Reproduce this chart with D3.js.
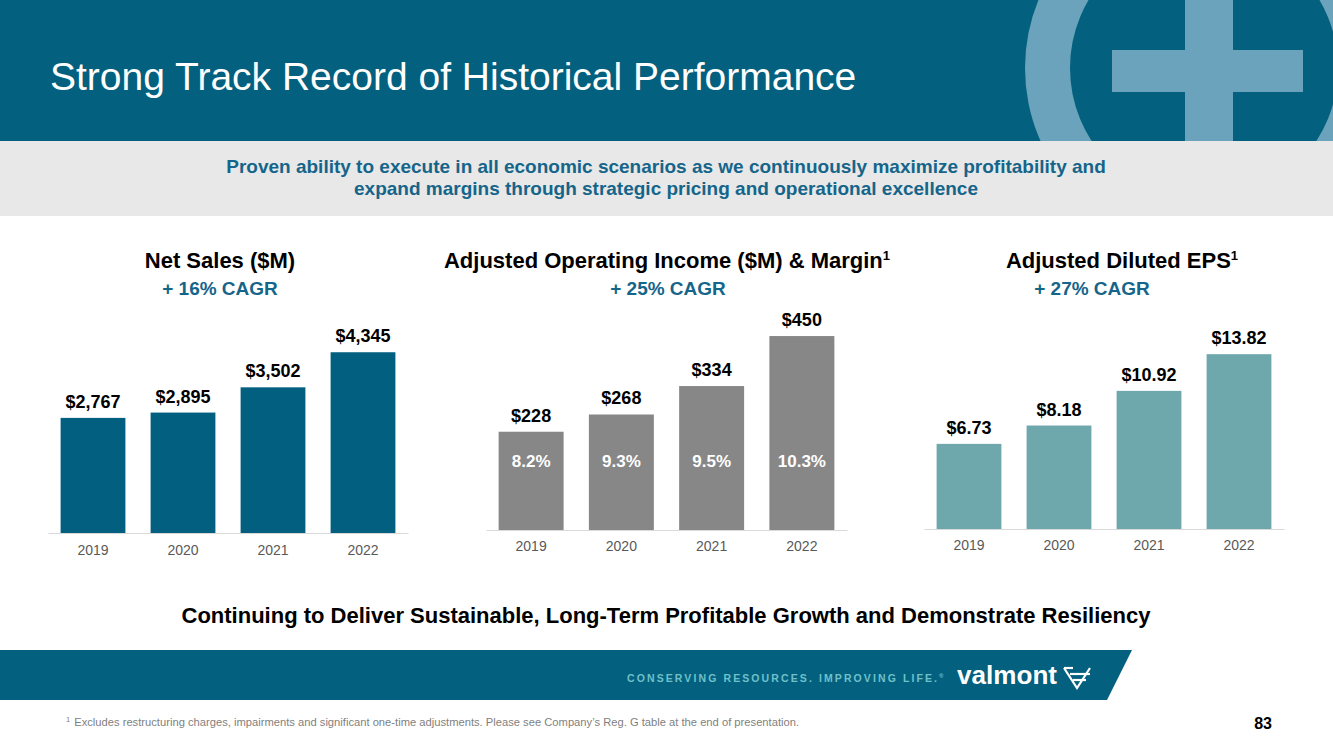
<!DOCTYPE html>
<html><head><meta charset="utf-8">
<script src="https://cdn.jsdelivr.net/npm/d3@7"></script>
<style>body{margin:0;background:#fff}svg{display:block}text{font-family:"Liberation Sans",Arial,Helvetica,sans-serif}</style>
</head><body><svg id="c" width="1333" height="749"></svg>
<script>
const years = ["2019", "2020", "2021", "2022"];
const netSales = [2767, 2895, 3502, 4345];
const netSalesLabels = ["$2,767", "$2,895", "$3,502", "$4,345"];
const opIncome = [228, 268, 334, 450];
const opIncomeLabels = ["$228", "$268", "$334", "$450"];
const opMargin = ["8.2%", "9.3%", "9.5%", "10.3%"];
const eps = [6.73, 8.18, 10.92, 13.82];
const epsLabels = ["$6.73", "$8.18", "$10.92", "$13.82"];

const BLUE = "#03607f", LIGHT = "#6aa3bb", TEAL_TXT = "#15658a";
const svg = d3.select("#c");

// Header
svg.append("rect").attr("x", 0).attr("y", 0).attr("width", 1333).attr("height", 141).attr("fill", BLUE);
const clip = svg.append("defs").append("clipPath").attr("id", "hdr");
clip.append("rect").attr("x", 0).attr("y", 0).attr("width", 1333).attr("height", 141);
const logo = svg.append("g").attr("clip-path", "url(#hdr)");
logo.append("path").attr("fill-rule", "evenodd").attr("fill", LIGHT)
  .attr("d", d3.arc()({innerRadius: 134, outerRadius: 179, startAngle: 0, endAngle: 2 * Math.PI}))
  .attr("transform", "translate(1204,68)");
logo.append("rect").attr("x", 1185).attr("y", -5).attr("width", 48).attr("height", 150).attr("fill", LIGHT);
logo.append("rect").attr("x", 1112).attr("y", 50).attr("width", 191).attr("height", 42).attr("fill", LIGHT);
svg.append("text").attr("x", 50).attr("y", 90).attr("fill", "#fff").attr("font-size", 39)
  .text("Strong Track Record of Historical Performance");

// Sub band
svg.append("rect").attr("x", 0).attr("y", 141).attr("width", 1333).attr("height", 75).attr("fill", "#e8e8e8");
const sub = svg.append("text").attr("text-anchor", "middle").attr("fill", TEAL_TXT)
  .attr("font-size", 19).attr("font-weight", "bold");
sub.append("tspan").attr("x", 666).attr("y", 173)
  .text("Proven ability to execute in all economic scenarios as we continuously maximize profitability and");
sub.append("tspan").attr("x", 666).attr("y", 195)
  .text("expand margins through strategic pricing and operational excellence");

// Charts
const charts = [
  {vals: netSales, labels: netSalesLabels, color: "#035f80", range: [48, 408], base: 533, max: 5000, top: 325,
   title: "Net Sales ($M)", sup: "", tx: 220, cagr: "+ 16% CAGR", cx: 220, inner: null, axisGap: 12},
  {vals: opIncome, labels: opIncomeLabels, color: "#878787", range: [486, 847], base: 530, max: 500, top: 314.5,
   title: "Adjusted Operating Income ($M) & Margin", sup: "1", tx: 667, cagr: "+ 25% CAGR", cx: 668, inner: opMargin, axisGap: 11},
  {vals: eps, labels: epsLabels, color: "#6ea8ad", range: [924, 1284], base: 529, max: 16, top: 326.6,
   title: "Adjusted Diluted EPS", sup: "1", tx: 1122, cagr: "+ 27% CAGR", cx: 1092, inner: null, axisGap: 11}
];

charts.forEach(c => {
  const x = d3.scaleBand().domain(years).range(c.range).paddingInner(0.28).paddingOuter(0.14);
  const y = d3.scaleLinear().domain([0, c.max]).range([c.base, c.top]);
  const g = svg.append("g");
  const t = g.append("text").attr("x", c.tx).attr("y", 268).attr("text-anchor", "middle")
    .attr("font-size", 22).attr("font-weight", "bold").attr("fill", "#000");
  t.append("tspan").text(c.title);
  if (c.sup) t.append("tspan").attr("font-size", 13).attr("dy", -8).text(c.sup);
  g.append("text").attr("x", c.cx).attr("y", 295).attr("text-anchor", "middle")
    .attr("font-size", 19).attr("font-weight", "bold").attr("fill", TEAL_TXT).text(c.cagr);

  g.selectAll("rect.bar").data(c.vals).join("rect").attr("class", "bar")
    .attr("x", (d, i) => x(years[i])).attr("width", x.bandwidth())
    .attr("y", d => y(d)).attr("height", d => y(0) - y(d)).attr("fill", c.color);

  g.selectAll("text.val").data(c.vals).join("text").attr("class", "val")
    .attr("x", (d, i) => x(years[i]) + x.bandwidth() / 2).attr("y", d => y(d) - 10)
    .attr("text-anchor", "middle").attr("font-size", 18).attr("font-weight", "bold").attr("fill", "#000")
    .text((d, i) => c.labels[i]);

  if (c.inner) {
    g.selectAll("text.inner").data(c.inner).join("text").attr("class", "inner")
      .attr("x", (d, i) => x(years[i]) + x.bandwidth() / 2).attr("y", 467)
      .attr("text-anchor", "middle").attr("font-size", 17).attr("font-weight", "bold").attr("fill", "#fff")
      .text(d => d);
  }

  const ax = g.append("g").attr("transform", `translate(0,${c.base})`)
    .call(d3.axisBottom(x).tickSize(0).tickPadding(c.axisGap));
  ax.select(".domain").attr("stroke", "#d9d9d9").attr("stroke-width", 1);
  ax.selectAll("text").attr("font-size", 14).attr("fill", "#595959")
    .attr("font-family", '"Liberation Sans",Arial,sans-serif');
});

// Bottom statement
svg.append("text").attr("x", 666).attr("y", 623).attr("text-anchor", "middle")
  .attr("font-size", 22).attr("font-weight", "bold").attr("fill", "#000")
  .text("Continuing to Deliver Sustainable, Long-Term Profitable Growth and Demonstrate Resiliency");

// Footer band
svg.append("path").attr("d", "M0,650 L1132,650 L1107,700 L0,700 Z").attr("fill", BLUE);
const tag = svg.append("text").attr("x", 627).attr("y", 682).attr("fill", "#6fc1c9")
  .attr("font-size", 10.5).attr("font-weight", "bold");
tag.append("tspan").attr("textLength", 310).attr("lengthAdjust", "spacing").text("CONSERVING RESOURCES. IMPROVING LIFE.");
tag.append("tspan").attr("font-size", 6).attr("dy", -4).text("®");
svg.append("text").attr("x", 957).attr("y", 684).attr("fill", "#fff").attr("font-size", 26)
  .attr("font-weight", "bold").attr("textLength", 100).attr("lengthAdjust", "spacingAndGlyphs").text("valmont");
const v = svg.append("g").attr("stroke", "#fff").attr("fill", "none").attr("stroke-width", 2.2);
v.append("path").attr("d", "M1064,668 L1077,688 L1090,668");
v.append("path").attr("d", "M1070,674 L1090,674");
v.append("path").attr("d", "M1073,680 L1086,680");
v.append("path").attr("d", "M1064,668 L1073,668");

// Footnote & page
const fn = svg.append("text").attr("x", 66).attr("y", 726).attr("fill", "#7f7f7f").attr("font-size", 11.2);
fn.append("tspan").attr("font-size", 7.5).attr("dy", -4).text("1");
fn.append("tspan").attr("dy", 4).attr("dx", 4)
  .text("Excludes restructuring charges, impairments and significant one-time adjustments. Please see Company’s Reg. G table at the end of presentation.");
svg.append("text").attr("x", 1272).attr("y", 729).attr("text-anchor", "end").attr("font-size", 16)
  .attr("font-weight", "bold").attr("fill", "#000").text("83");
</script></body></html>
